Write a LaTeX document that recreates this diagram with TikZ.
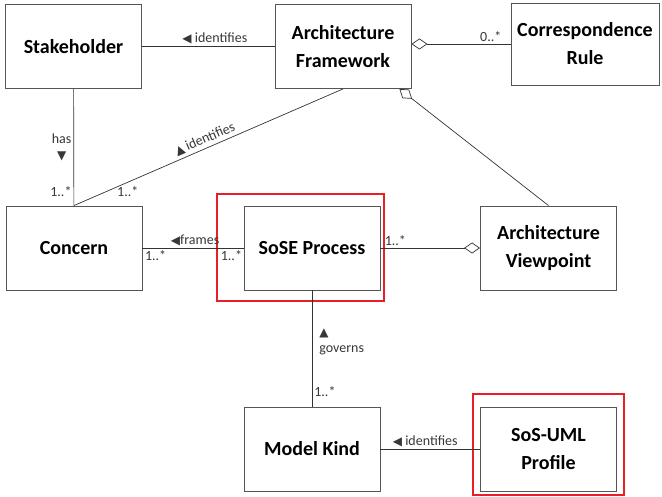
\documentclass[tikz,border=0pt]{standalone}
\usepackage{fontspec}
\setmainfont{Carlito}
\newfontfamily\symfont{DejaVu Sans}
\usetikzlibrary{arrows.meta,positioning}
\definecolor{boxgray}{RGB}{85,85,85}
\definecolor{labelgray}{RGB}{55,55,55}
\definecolor{markred}{RGB}{232,30,40}
\newcommand{\triL}{{\symfont\fontsize{12}{12}\selectfont ◀}}
\newcommand{\triU}{{\symfont\fontsize{12}{12}\selectfont ▲}}
\newcommand{\triD}{{\symfont\fontsize{12}{12}\selectfont ▼}}
\tikzset{
    cls/.style={draw=boxgray,line width=0.9pt,minimum width=136pt,minimum height=84pt,
        align=center,font=\fontsize{20}{28}\selectfont\bfseries},
    lbl/.style={font=\fontsize{14}{16}\selectfont,text=labelgray,inner sep=2pt},
    assoc/.style={draw=black!80,line width=0.7pt},
    aggr/.style={assoc,{Diamond[open,length=16pt,width=11pt]}-},
    hilite/.style={draw=markred,line width=2.6pt}
}

\begin{document}
\begin{tikzpicture}[x=1pt,y=-1pt]
    \useasboundingbox (0,0) rectangle (662,497);
    \node[cls] (sh)   at (73.5,46.5) {Stakeholder};
    \node[cls] (af)   at (343,46.5)  {Architecture\\Framework};
    \node[cls,minimum width=148pt,minimum height=82pt] (cr) at (585,44) {Correspondence\\Rule};
    \node[cls] (con)  at (74,248)    {Concern};
    \node[cls] (sose) at (312,248)   {SoSE Process};
    \node[cls] (av)   at (548.5,248) {Architecture\\Viewpoint};
    \node[cls] (mk)   at (312,449)   {Model Kind};
    \node[cls] (uml)  at (548.5,449) {SoS-UML\\Profile};
    % highlighted classes
    \draw[hilite] (217,194) rectangle (384,301);
    \draw[hilite] (473,394) rectangle (624,495);
    % associations
    \draw[assoc] (sh) -- (af) node[lbl,pos=0.55,above] {\triL\ identifies};
    \draw[aggr] (af.east |- cr.west) -- (cr.west) node[lbl,pos=0.8,above] {0..*};
    \draw[assoc] (sh) -- (con)
        node[lbl,midway,left,align=center] {has\\\triD}
        node[lbl,pos=0.88,left] {1..*};
    \draw[assoc] (af.south) -- (con.north)
        node[lbl,midway,above=1pt,sloped] {\triU\,identifies}
        node[lbl,pos=0.8,below=2pt] {1..*};
    \draw[aggr] ([xshift=-12pt]af.south east) -- (av.north);
    \draw[assoc] (con) -- (sose)
        node[lbl,pos=0.52,above] {\triL frames}
        node[lbl,pos=0.13,below] {1..*}
        node[lbl,pos=0.88,below] {1..*};
    \draw[aggr] (av) -- (sose) node[lbl,pos=0.85,above] {1..*};
    \draw[assoc] (sose) -- (mk)
        node[lbl,pos=0.44,right=5pt,align=left] {\triU\\governs}
        node[lbl,pos=0.87,right] {1..*};
    \draw[assoc] (uml) -- (mk) node[lbl,pos=0.55,above] {\triL\ identifies};
\end{tikzpicture}
\end{document}
